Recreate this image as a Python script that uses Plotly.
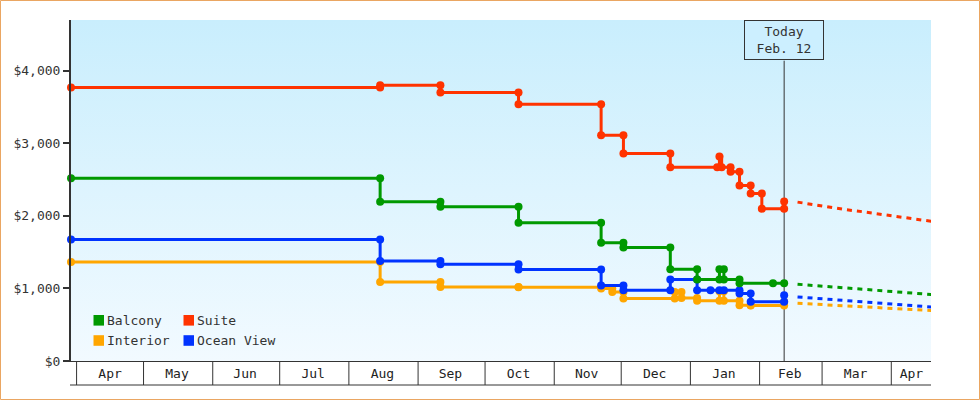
import base64
import plotly.graph_objects as go

# ---------------- data ----------------
suite_dates = ["2022-03-29 12:00", "2022-08-15", "2022-08-15", "2022-09-11", "2022-09-11",
               "2022-10-16", "2022-10-16", "2022-11-22", "2022-11-22", "2022-12-02", "2022-12-02",
               "2022-12-23", "2022-12-23", "2023-01-13", "2023-01-14", "2023-01-15",
               "2023-01-19", "2023-01-19", "2023-01-23", "2023-01-23", "2023-01-28", "2023-01-28",
               "2023-02-02", "2023-02-02", "2023-02-12", "2023-02-12"]
suite_prices = [3770, 3770, 3800, 3800, 3700, 3700, 3540, 3540, 3110, 3110, 2860,
                2860, 2670, 2670, 2820, 2670, 2670, 2610, 2610, 2420, 2420, 2310,
                2310, 2100, 2100, 2200]

balcony_dates = ["2022-03-29 12:00", "2022-08-15", "2022-08-15", "2022-09-11", "2022-09-11",
                 "2022-10-16", "2022-10-16", "2022-11-22", "2022-11-22", "2022-12-02", "2022-12-02",
                 "2022-12-23", "2022-12-23", "2023-01-04", "2023-01-04", "2023-01-14", "2023-01-14",
                 "2023-01-16", "2023-01-16", "2023-01-23", "2023-01-23", "2023-02-07", "2023-02-12"]
balcony_prices = [2520, 2520, 2195, 2195, 2125, 2125, 1905, 1905, 1630, 1630, 1565,
                  1565, 1265, 1265, 1125, 1125, 1265, 1265, 1125, 1125, 1070, 1070, 1070]

ocean_dates = ["2022-03-29 12:00", "2022-08-15", "2022-08-15", "2022-09-11", "2022-09-11",
               "2022-10-16", "2022-10-16", "2022-11-22", "2022-11-22", "2022-12-02", "2022-12-02",
               "2022-12-23", "2022-12-23", "2023-01-04", "2023-01-04", "2023-01-10", "2023-01-14",
               "2023-01-16", "2023-01-23", "2023-01-23", "2023-01-28", "2023-01-28",
               "2023-02-12", "2023-02-12"]
ocean_prices = [1675, 1675, 1380, 1380, 1335, 1335, 1260, 1260, 1040, 1040, 975,
                975, 1125, 1125, 975, 975, 975, 975, 975, 930, 930, 815, 815, 905]

interior_dates = ["2022-03-29 12:00", "2022-08-15", "2022-08-15", "2022-09-11", "2022-09-11",
                  "2022-10-16", "2022-10-16", "2022-11-22", "2022-11-22", "2022-11-27", "2022-11-27",
                  "2022-12-02", "2022-12-02", "2022-12-25", "2022-12-25", "2022-12-28", "2022-12-28",
                  "2023-01-04", "2023-01-04", "2023-01-14", "2023-01-14", "2023-01-16", "2023-01-16",
                  "2023-01-23", "2023-01-23", "2023-01-28", "2023-01-28", "2023-02-12", "2023-02-12"]
interior_prices = [1365, 1365, 1090, 1090, 1020, 1020, 1015, 1015, 1000, 1000, 950,
                   950, 860, 860, 950, 950, 870, 870, 830, 830, 960, 960, 830,
                   830, 770, 770, 765, 765, 815]

forecast_dates = ["2023-02-18", "2023-02-26", "2023-03-05", "2023-03-12", "2023-03-19",
                  "2023-03-26", "2023-04-02", "2023-04-09", "2023-04-16", "2023-04-19"]
suite_fc = [2190, 2150, 2115, 2085, 2058, 2027, 2003, 1966, 1940, 1925]
balcony_fc = [1058, 1040, 1025, 1010, 995, 980, 962, 945, 928, 916]
ocean_fc = [883, 865, 850, 835, 820, 805, 790, 772, 755, 745]
interior_fc = [796, 782, 770, 760, 748, 737, 725, 713, 702, 695]

month_starts = ["2022-04-01", "2022-05-01", "2022-06-01", "2022-07-01", "2022-08-01",
                "2022-09-01", "2022-10-01", "2022-11-01", "2022-12-01", "2023-01-01",
                "2023-02-01", "2023-03-01", "2023-04-01"]
month_label_dates = ["2022-04-16", "2022-05-16", "2022-06-15 12:00", "2022-07-16", "2022-08-16",
                     "2022-09-15 12:00", "2022-10-16", "2022-11-15 12:00", "2022-12-16",
                     "2023-01-16", "2023-02-14 12:00", "2023-03-16", "2023-04-10"]
month_labels = ["Apr", "May", "Jun", "Jul", "Aug", "Sep", "Oct", "Nov", "Dec", "Jan",
                "Feb", "Mar", "Apr"]

y_ticks = [0, 1000, 2000, 3000, 4000]
today_date = "2023-02-12"
x_range = ["2022-03-29 12:00", "2023-04-18 19:00"]

# ---------------- styling ----------------
FONT = "DejaVu Sans Mono"
W, H = 980, 400
ML, MR, MT, MB = 71, 49, 20, 39
PW, PH = W - ML - MR, H - MT - MB


def px_x(px):
    return (px - ML) / PW


def px_y(py):
    return (H - MB - py) / PH


series = [
    ("Interior", "#ffa600", interior_dates, interior_prices, interior_fc),
    ("Ocean View", "#0033ff", ocean_dates, ocean_prices, ocean_fc),
    ("Balcony", "#009900", balcony_dates, balcony_prices, balcony_fc),
    ("Suite", "#ff3300", suite_dates, suite_prices, suite_fc),
]

fig = go.Figure()
for name, color, d, p, fc in series:
    fig.add_trace(go.Scatter(
        x=forecast_dates, y=fc, mode="lines", name=name + " forecast",
        line=dict(color=color, width=3, dash="5px,5px"), showlegend=False,
        hoverinfo="skip"))
for name, color, d, p, fc in series:
    fig.add_trace(go.Scatter(
        x=d, y=p, mode="lines+markers", name=name,
        line=dict(color=color, width=3, shape="hv"),
        marker=dict(symbol="circle", size=8, color=color),
        cliponaxis=False, showlegend=False))

# gradient background
svg = ('<svg xmlns="http://www.w3.org/2000/svg" width="10" height="100" preserveAspectRatio="none">'
       '<defs><linearGradient id="g" x1="0" y1="0" x2="0" y2="1">'
       '<stop offset="0" stop-color="#c9eefd"/><stop offset="1" stop-color="#f2faff"/>'
       '</linearGradient></defs><rect width="10" height="100" fill="url(#g)"/></svg>')
bg_src = "data:image/svg+xml;base64," + base64.b64encode(svg.encode()).decode()

shapes = []
# month separators
for ms in month_starts:
    shapes.append(dict(type="line", xref="x", yref="paper", x0=ms, x1=ms,
                       y0=0, y1=px_y(385), line=dict(color="#333333", width=1)))
# bottom line of month band
shapes.append(dict(type="line", xref="paper", yref="paper", x0=px_x(70), x1=1,
                   y0=px_y(385), y1=px_y(385), line=dict(color="#333333", width=1)))
# today line
shapes.append(dict(type="line", xref="x", yref="paper", x0=today_date, x1=today_date,
                   y0=0, y1=px_y(60.7), line=dict(color="#333333", width=1), layer="below"))
# outer frame
shapes.append(dict(type="rect", xref="paper", yref="paper", x0=px_x(0.5), x1=px_x(979.5),
                   y0=px_y(399.5), y1=px_y(0.5), line=dict(color="#eaa662", width=1)))

annotations = [dict(x=today_date, xref="x", y=1, yref="paper", xanchor="center", yanchor="top",
                    text="Today<br>Feb. 12", showarrow=False, width=78, height=38,
                    bgcolor="#ccefff", bordercolor="#333333", borderwidth=1, borderpad=0,
                    font=dict(family=FONT, size=13, color="#333333"))]

# legend (2x2)
legend_items = [("Balcony", "#009900", 93.5, 320.3), ("Suite", "#ff3300", 183.5, 320.3),
                ("Interior", "#ffa600", 93.5, 340.5), ("Ocean View", "#0033ff", 183.5, 340.5)]
for label, color, lx, ly in legend_items:
    shapes.append(dict(type="rect", xref="paper", yref="paper", x0=px_x(lx), x1=px_x(lx + 10.5),
                       y0=px_y(ly + 5.3), y1=px_y(ly - 5.3), fillcolor=color,
                       line=dict(width=0)))
    annotations.append(dict(x=px_x(lx + 11.5), xref="paper", y=px_y(ly), yref="paper",
                            xanchor="left", yanchor="middle", text=label, showarrow=False,
                            font=dict(family=FONT, size=13, color="#333333")))

fig.update_layout(
    width=W, height=H,
    margin=dict(l=ML, r=MR, t=MT, b=MB),
    paper_bgcolor="white", plot_bgcolor="#e2f5ff",
    font=dict(family=FONT, size=13, color="#333333"),
    showlegend=False,
    images=[dict(source=bg_src, xref="paper", yref="paper", x=0, y=1, sizex=1, sizey=1,
                 xanchor="left", yanchor="top", sizing="stretch", layer="below")],
    shapes=shapes, annotations=annotations,
    xaxis=dict(type="date", range=x_range, tickmode="array", tickvals=month_label_dates,
               ticktext=month_labels, ticks="", showgrid=False, zeroline=False,
               showline=True, linecolor="#333333", linewidth=1, ticklabelstandoff=0,
               tickfont=dict(family=FONT, size=13, color="#222222")),
    yaxis=dict(range=[0, 4700], tickmode="array", tickvals=y_ticks, tickformat="$,.0f",
               ticks="outside", ticklen=6, tickwidth=2, tickcolor="#333333",
               showgrid=False, zeroline=False, showline=True, linecolor="#333333",
               linewidth=2, tickfont=dict(family=FONT, size=13, color="#333333")),
)

fig.write_html("out.html", config={"displayModeBar": False},
               post_script="document.body.style.margin='0';document.body.style.overflow='hidden';")
